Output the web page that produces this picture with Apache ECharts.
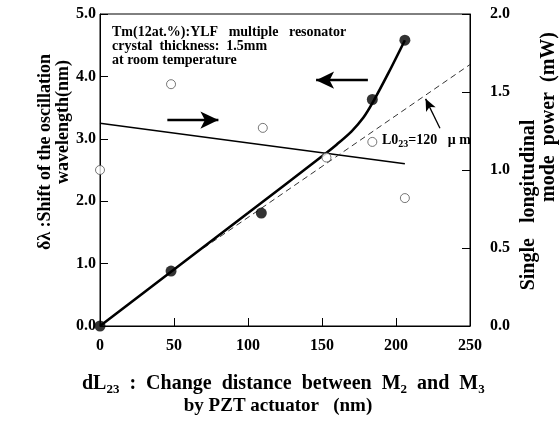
<!DOCTYPE html>
<html><head><meta charset="utf-8">
<script src="https://cdn.jsdelivr.net/npm/echarts@6/dist/echarts.min.js"></script>
<style>html,body{margin:0;padding:0;background:#fff}#c{width:560px;height:426px}</style>
</head><body><div id="c"></div>
<script>
// Data
const xTicks = [0, 50, 100, 150, 200, 250];
const xFilled = [0, 48, 109, 184, 206];
const yShift = [0, 0.88, 1.81, 3.63, 4.58];
const xOpen = [0, 48, 110, 153, 184, 206];
const yPower = [1.0, 1.55, 1.27, 1.08, 1.18, 0.82];
const curveX = [0, 50, 100, 150, 160, 170, 178, 184, 195, 206];
const curveY = [0, 0.905, 1.81, 2.72, 2.91, 3.12, 3.34, 3.57, 4.06, 4.58];
const powerTrendX = [0, 206];
const powerTrendY = [1.30, 1.04];
const theoryX = [70, 250];
const theoryY = [1.25, 4.19];

const FONT = 'Liberation Serif';
const zip = (a, b) => a.map((v, i) => [v, b[i]]);

const chart = echarts.init(document.getElementById('c'));
const axisCommon = {
  axisLine: { show: true, lineStyle: { color: '#000', width: 1 } },
  axisTick: { show: true, inside: true, length: 8, lineStyle: { color: '#000' } },
  splitLine: { show: false },
  axisLabel: { color: '#000', fontFamily: FONT, fontWeight: 'bold', fontSize: 16 }
};
chart.setOption({
  animation: false,
  grid: { left: 100, right: 90, top: 14, bottom: 100, show: true, borderColor: '#000', borderWidth: 1, backgroundColor: 'transparent' },
  xAxis: Object.assign({}, axisCommon, {
    type: 'value', min: 0, max: 250, interval: 50,
    axisLabel: Object.assign({}, axisCommon.axisLabel, { margin: 12 })
  }),
  yAxis: [
    Object.assign({}, axisCommon, {
      type: 'value', min: 0, max: 5, interval: 1, position: 'left',
      axisLabel: Object.assign({}, axisCommon.axisLabel, { margin: 4, formatter: v => v.toFixed(1) })
    }),
    Object.assign({}, axisCommon, {
      type: 'value', min: 0, max: 2, interval: 0.5, position: 'right',
      axisLabel: Object.assign({}, axisCommon.axisLabel, { margin: 20, formatter: v => v.toFixed(1) })
    })
  ],
  series: [
    {
      type: 'line', yAxisIndex: 1, data: zip(powerTrendX, powerTrendY), symbol: 'none',
      lineStyle: { color: '#000', width: 1.6 }, silent: true
    },
    {
      type: 'line', yAxisIndex: 0, data: zip(theoryX, theoryY), symbol: 'none',
      lineStyle: { color: '#333', width: 1, type: [6, 4] }, silent: true,
      markLine: {
        silent: true, symbol: ['none', 'arrow'], symbolSize: [8, 12],
        label: { show: false },
        lineStyle: { color: '#000', width: 1.3, type: 'solid' },
        data: [[{ coord: [229.7, 3.17] }, { coord: [220, 3.64] }]]
      }
    },
    {
      type: 'line', yAxisIndex: 0, data: zip(curveX, curveY), symbol: 'none', smooth: 0.3,
      lineStyle: { color: '#000', width: 2.6 }, silent: true,
      markLine: {
        silent: true, symbol: ['none', 'arrow'], symbolSize: [13, 18],
        label: { show: false },
        lineStyle: { color: '#000', width: 2.4, type: 'solid' },
        data: [
          [{ coord: [181, 3.94] }, { coord: [146, 3.94] }],
          [{ coord: [45.5, 3.30] }, { coord: [80, 3.30] }]
        ]
      }
    },
    {
      type: 'scatter', yAxisIndex: 1, data: zip(xOpen, yPower), symbol: 'circle', symbolSize: 9,
      itemStyle: { color: '#fff', borderColor: '#555', borderWidth: 1 }, silent: true, z: 5
    },
    {
      type: 'scatter', yAxisIndex: 0, data: zip(xFilled, yShift), symbol: 'circle', symbolSize: 11,
      itemStyle: { color: '#000' }, silent: true, z: 6
    }
  ],
  graphic: [
    { type: 'text', x: 112, y: 25, silent: true,
      style: { text: 'Tm(12at.%):YLF   multiple   resonator\ncrystal  thickness:  1.5mm\nat room temperature',
        fill: '#000', font: 'bold 14px "Liberation Serif"', lineHeight: 14, verticalAlign: 'top' } },
    { type: 'text', x: 382, y: 140, silent: true,
      style: { text: '{t|L0}{s|23}{t|=120   μ m}', fill: '#000', verticalAlign: 'middle',
        rich: { t: { fontFamily: FONT, fontWeight: 'bold', fontSize: 14, lineHeight: 18 },
                s: { fontFamily: FONT, fontWeight: 'bold', fontSize: 10, lineHeight: 10, verticalAlign: 'bottom' } } } },
    { type: 'text', x: 45, y: 152, rotation: Math.PI / 2, silent: true,
      style: { text: 'δλ :Shift of the oscillation', fill: '#000', font: 'bold 18px "Liberation Serif"', align: 'center', verticalAlign: 'middle' } },
    { type: 'text', x: 63, y: 122, rotation: Math.PI / 2, silent: true,
      style: { text: 'wavelength(nm)', fill: '#000', font: 'bold 18px "Liberation Serif"', align: 'center', verticalAlign: 'middle' } },
    { type: 'text', x: 529, y: 205, rotation: Math.PI / 2, silent: true,
      style: { text: 'Single   longitudinal', fill: '#000', font: 'bold 20px "Liberation Serif"', align: 'center', verticalAlign: 'middle' } },
    { type: 'text', x: 549, y: 117, rotation: Math.PI / 2, silent: true,
      style: { text: 'mode  power  (mW)', fill: '#000', font: 'bold 20px "Liberation Serif"', align: 'center', verticalAlign: 'middle' } },
    { type: 'text', x: 82, y: 384, silent: true,
      style: { text: '{t|dL}{s|23}{t|  :  Change  distance  between  M}{s|2}{t|  and  M}{s|3}', fill: '#000', verticalAlign: 'middle',
        rich: { t: { fontFamily: FONT, fontWeight: 'bold', fontSize: 20, lineHeight: 24 },
                s: { fontFamily: FONT, fontWeight: 'bold', fontSize: 13, lineHeight: 12, verticalAlign: 'bottom' } } } },
    { type: 'text', x: 278, y: 406, silent: true,
      style: { text: 'by PZT actuator   (nm)', fill: '#000', font: 'bold 19px "Liberation Serif"', align: 'center', verticalAlign: 'middle' } }
  ]
});
</script></body></html>
